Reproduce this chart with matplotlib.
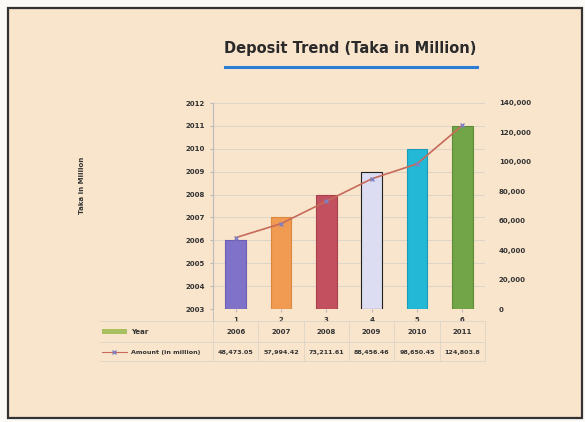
import matplotlib.pyplot as plt
import numpy as np
from matplotlib.patches import Rectangle
from matplotlib.lines import Line2D

# Data
categories = ['1', '2', '3', '4', '5', '6']
years = [2006, 2007, 2008, 2009, 2010, 2011]
amounts = [48473.05, 57994.42, 73211.61, 88456.46, 98650.45, 124803.8]
amount_labels = ['48,473.05', '57,994.42', '73,211.61', '88,456.46', '98,650.45', '124,803.8']
left_ticks = list(range(2003, 2013))
right_ticks = list(range(0, 140001, 20000))
bar_colors = ['#7f72c8', '#f09a52', '#c2505e', '#dcdcf2', '#22b8d6', '#72a448']
bar_edges = ['#6a5fb0', '#d98840', '#a8404e', '#222222', '#1a9cb8', '#5d8c38']

fig = plt.figure(figsize=(5.85, 4.22), dpi=100)
fig.patch.set_facecolor('#fbfaf7')

# Outer frame
fig.add_artist(Rectangle((8 / 585, 4 / 422), 574 / 585, 410 / 422, transform=fig.transFigure,
                         facecolor='#f9e4cc', edgecolor='#333333', linewidth=1.6, zorder=0))

# Title + blue underline
fig.text(350 / 585, 1 - 48 / 422, 'Deposit Trend (Taka in Million)', ha='center', va='center',
         fontsize=10.5, fontweight='bold', color='#2a2a2a')
fig.add_artist(Line2D([225 / 585, 477 / 585], [1 - 67 / 422, 1 - 67 / 422],
                      transform=fig.transFigure, color='#2a7fd4', linewidth=2.2))

ax = fig.add_axes([213 / 585, 1 - 309 / 422, 272 / 585, 206 / 422])
ax.set_facecolor('none')
x = np.arange(len(categories))
ax.bar(x, np.array(years) - 2003, bottom=2003, width=0.45, color=bar_colors,
       edgecolor=bar_edges, linewidth=0.8, zorder=3)
ax.set_xlim(-0.5, 5.5)
ax.set_ylim(2003, 2012)
ax.set_yticks(left_ticks)
ax.set_yticklabels([str(t) for t in left_ticks], fontsize=5, fontweight='bold', color='#333333')
ax.set_xticks(x)
ax.set_xticklabels(categories, fontsize=5, fontweight='bold', color='#333333')
ax.grid(axis='y', color='#ddd5c8', linewidth=0.7, zorder=0)
ax.tick_params(length=2, color='#bbbbbb', pad=4)
for s in ['top', 'right', 'bottom']:
    ax.spines[s].set_visible(False)
ax.spines['left'].set_color('#bbbbbb')
ax.set_ylabel('Taka in Million', fontsize=5, fontweight='bold', color='#333333', labelpad=4)
ax.yaxis.set_label_coords(-0.47, 0.6)

ax2 = ax.twinx()
ax2.plot(x, amounts, color='#c86a5a', linewidth=1.2, marker='x', markersize=3,
         markeredgecolor='#8080c0', zorder=4)
ax2.set_ylim(0, 140000)
ax2.set_yticks(right_ticks)
ax2.set_yticklabels(['{:,}'.format(t) if t else '0' for t in right_ticks], fontsize=5,
                    fontweight='bold', color='#333333')
ax2.tick_params(length=0, pad=10)
for s in ['top', 'left', 'bottom', 'right']:
    ax2.spines[s].set_visible(False)

# Data table below the axis
tr = ax.get_xaxis_transform()
row1 = -0.11
row2 = -0.21
for i in range(len(categories)):
    ax.text(x[i], row1, str(years[i]), transform=tr, ha='center', va='center',
            fontsize=5, fontweight='bold', color='#333333')
    ax.text(x[i], row2, amount_labels[i], transform=tr, ha='center', va='center',
            fontsize=4.6, fontweight='bold', color='#333333')
for xv in np.arange(-0.5, 6, 1):
    ax.plot([xv, xv], [-0.06, -0.25], transform=tr, color='#ddd5c8', linewidth=0.6, clip_on=False)
for yv in [-0.06, -0.16, -0.25]:
    ax.plot([-3.0, 5.5], [yv, yv], transform=tr, color='#ddd5c8', linewidth=0.6, clip_on=False)
ax.plot([-0.5, -0.5], [0, -0.06], transform=tr, color='#bbbbbb', linewidth=0.6, clip_on=False)

# Legend keys in the table
ax.add_patch(Rectangle((-2.95, row1 - 0.012), 0.55, 0.024, transform=tr, facecolor='#a8c060',
                       edgecolor='none', clip_on=False))
ax.text(-2.3, row1, 'Year', transform=tr, ha='left', va='center', fontsize=5,
        fontweight='bold', color='#333333')
ax.plot([-2.95, -2.4], [row2, row2], transform=tr, color='#c86a5a', linewidth=0.8, clip_on=False)
ax.plot([-2.68], [row2], transform=tr, marker='x', markersize=3, color='#8080c0', clip_on=False)
ax.text(-2.3, row2, 'Amount (in million)', transform=tr, ha='left', va='center', fontsize=4.6,
        fontweight='bold', color='#333333')

fig.savefig('out.png', dpi=100, facecolor=fig.get_facecolor())
